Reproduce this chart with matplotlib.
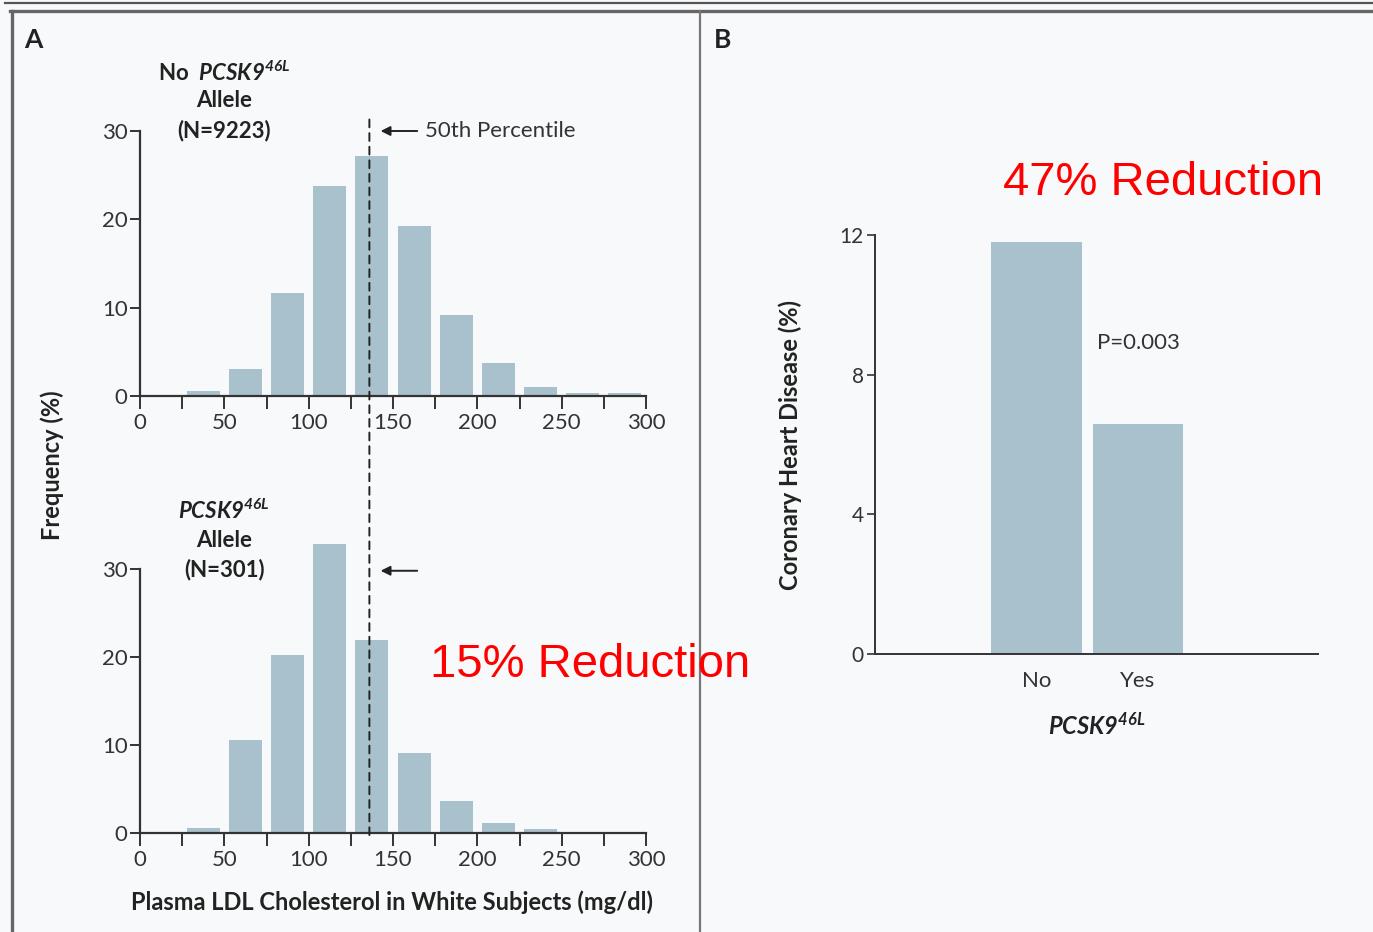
import matplotlib
matplotlib.use("Agg")
import matplotlib.pyplot as plt
from matplotlib.lines import Line2D
from matplotlib.patches import ConnectionPatch

plt.rcParams['font.family'] = ['Lato', 'DejaVu Sans']
plt.rcParams['mathtext.fontset'] = 'custom'
plt.rcParams['mathtext.it'] = 'Lato:italic:bold'
plt.rcParams['mathtext.rm'] = 'Lato:italic:bold'
plt.rcParams['mathtext.bf'] = 'Lato:bold'

# histogram bins (mg/dl), 25-wide
bin_centers = [37.5, 62.5, 87.5, 112.5, 137.5, 162.5, 187.5, 212.5, 237.5, 262.5, 287.5]
freq_no_allele = [0.6, 3.0, 11.7, 23.8, 27.2, 19.3, 9.2, 3.7, 1.0, 0.3, 0.3]
freq_allele = [0.6, 10.6, 20.2, 32.8, 21.9, 9.1, 3.6, 1.1, 0.5, 0.0, 0.0]
median_ldl = 136

chd_groups = ["No", "Yes"]
chd_pct = [11.8, 6.6]

bar_color = "#a9c1cd"
axis_color = "#333333"
bg = "#f8f9fa"

fig = plt.figure(figsize=(13.73, 9.32), dpi=100, facecolor=bg)

W, H = 1373, 932


def px_axes(x0, y0, x1, y1):
    # pixel box (top-left origin) -> figure axes
    return fig.add_axes([x0 / W, 1 - y1 / H, (x1 - x0) / W, (y1 - y0) / H])


def style_hist(ax):
    ax.set_facecolor('none')
    ax.set_xlim(0, 300)
    ax.set_ylim(0, 34)
    for s in ['top', 'right']:
        ax.spines[s].set_visible(False)
    ax.spines['left'].set_bounds(0, 30)
    for s in ['left', 'bottom']:
        ax.spines[s].set_linewidth(1.6)
        ax.spines[s].set_color(axis_color)
    ax.set_xticks(range(0, 301, 50))
    ax.set_xticks(range(25, 300, 50), minor=True)
    ax.set_yticks([0, 10, 20, 30])
    ax.tick_params(axis='x', which='both', length=9, width=1.4, color=axis_color,
                   labelsize=16, labelcolor='#333333', pad=3)
    ax.tick_params(axis='y', length=7, width=1.4, color=axis_color,
                   labelsize=16, labelcolor='#333333', pad=2)


# top histogram: 0 at y=396 px, 30 at y=131 px
ax1 = px_axes(140, 396 - 34 * 265 / 30, 646, 396)
ax1.bar(bin_centers, freq_no_allele, width=19.5, color=bar_color)
style_hist(ax1)

# bottom histogram: 0 at y=833 px
ax2 = px_axes(140, 833 - 34 * 264 / 30, 646, 833)
ax2.bar(bin_centers, freq_allele, width=19.5, color=bar_color)
style_hist(ax2)

lab = dict(ha='center', va='center', fontsize=16, fontweight='bold', color='#222222')
# group labels
ax1.text(50, 36.6, r"No  $PCSK9^{46L}$", **lab)
ax1.text(50, 33.4, "Allele", **lab)
ax1.text(50, 30.0, "(N=9223)", **lab)
ax2.text(50, 36.6, r"$PCSK9^{46L}$", **lab)
ax2.text(50, 33.2, "Allele", **lab)
ax2.text(50, 29.9, "(N=301)", **lab)

# median line through both panels
con = ConnectionPatch(xyA=(median_ldl, 31.3), coordsA=ax1.transData,
                      xyB=(median_ldl, -0.3), coordsB=ax2.transData,
                      linestyle=(0, (4, 3)), color='#222222', linewidth=1.4)
fig.add_artist(con)

arrow = dict(arrowstyle='-|>', color='#222222', lw=1.4, mutation_scale=14)
ax1.annotate("", xy=(141, 30), xytext=(166, 30), arrowprops=arrow, annotation_clip=False)
ax1.text(169, 30, "50th Percentile", ha='left', va='center', fontsize=16, color='#333333')
ax2.annotate("", xy=(141, 29.8), xytext=(166, 29.8), arrowprops=arrow, annotation_clip=False)

fig.text(52 / W, 1 - 465 / H, "Frequency (%)", rotation=90, ha='center', va='center',
         fontsize=17, fontweight='bold', color='#222222')
fig.text(392 / W, 1 - 902 / H, "Plasma LDL Cholesterol in White Subjects (mg/dl)",
         ha='center', va='center', fontsize=17, fontweight='bold', color='#222222')

# panel B
ax3 = px_axes(875, 235, 1318, 654)
ax3.set_facecolor('none')
xpos = list(range(len(chd_groups)))
ax3.bar(xpos, chd_pct, width=0.89, color=bar_color)
ax3.set_xlim(-1.591, 2.773)
ax3.set_ylim(0, 12)
ax3.set_yticks([0, 4, 8, 12])
ax3.set_xticks(xpos)
ax3.set_xticklabels(chd_groups)
for s in ['top', 'right']:
    ax3.spines[s].set_visible(False)
for s in ['left', 'bottom']:
    ax3.spines[s].set_linewidth(1.4)
    ax3.spines[s].set_color(axis_color)
ax3.tick_params(axis='x', length=0, labelsize=16, labelcolor='#333333', pad=12)
ax3.tick_params(axis='y', length=6, width=1.2, color=axis_color, labelsize=15,
                labelcolor='#333333', pad=2)
ax3.text(1.0, 8.9, "P=0.003", ha='center', va='center', fontsize=16, color='#333333')
fig.text(790 / W, 1 - 445 / H, "Coronary Heart Disease (%)", rotation=90, ha='center',
         va='center', fontsize=17, fontweight='bold', color='#222222')
fig.text(1097 / W, 1 - 725 / H, r"$PCSK9^{46L}$", ha='center', va='center',
         fontsize=17, color='#222222')

# panel letters
fig.text(33 / W, 1 - 40 / H, "A", ha='center', va='center', fontsize=19, fontweight='bold',
         color='#222222')
fig.text(723 / W, 1 - 40 / H, "B", ha='center', va='center', fontsize=19, fontweight='bold',
         color='#222222')

# red annotations
fig.text(430 / W, 1 - 677 / H, "15% Reduction", ha='left', va='baseline', fontsize=34,
         color='#ff0000', family='Liberation Sans')
fig.text(1003 / W, 1 - 195 / H, "47% Reduction", ha='left', va='baseline', fontsize=34,
         color='#ff0000', family='Liberation Sans')

# frame lines
fig.add_artist(Line2D([5 / W, 1], [1 - 3 / H, 1 - 3 / H], color='#555555', lw=1.6))
fig.add_artist(Line2D([10 / W, 1], [1 - 11 / H, 1 - 11 / H], color='#666666', lw=2.4))
fig.add_artist(Line2D([12 / W, 12 / W], [0, 1 - 11 / H], color='#666666', lw=2.4))
fig.add_artist(Line2D([700 / W, 700 / W], [0, 1 - 11 / H], color='#777777', lw=1.6))

fig.savefig("out.png", dpi=100, facecolor=bg)
